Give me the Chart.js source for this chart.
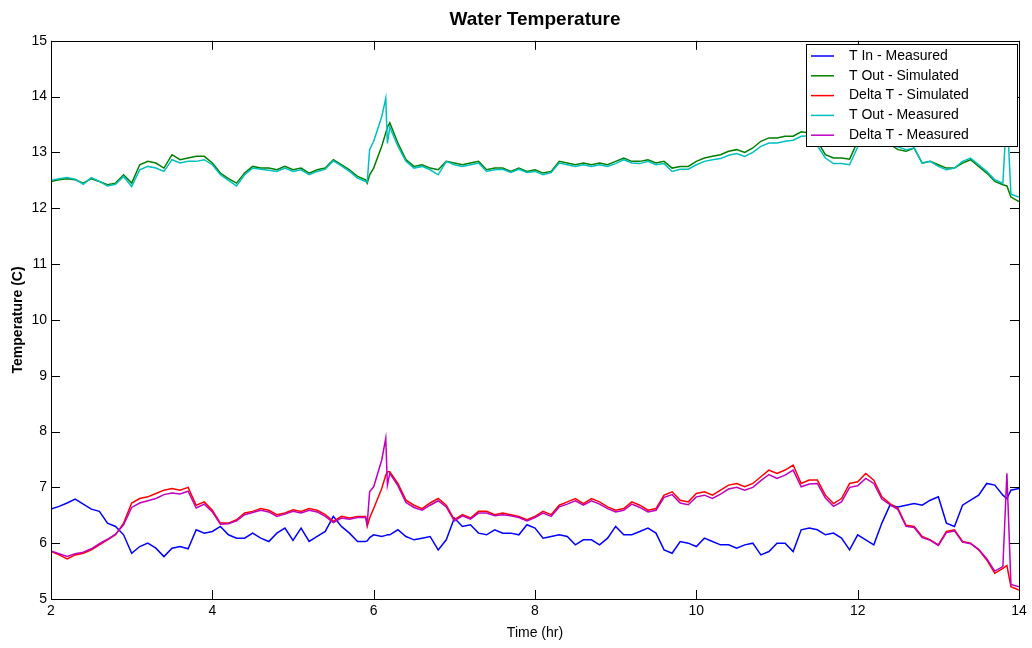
<!DOCTYPE html>
<html>
<head>
<meta charset="utf-8">
<script src="https://cdn.jsdelivr.net/npm/chart.js@4.4.1/dist/chart.umd.min.js"></script>
<style>
  html, body { margin: 0; padding: 0; background: #fff; }
  #wrap { width: 1032px; height: 648px; }
</style>
</head>
<body>
<div id="wrap"><canvas id="chart"></canvas></div>
<script>
// time axis (hr), a few extra samples around the spikes
const hours = [
    2.0,2.1,2.2,2.3,2.4,2.5,2.6,2.7,2.8,2.9,
    3.0,3.1,3.2,3.3,3.4,3.5,3.6,3.7,3.8,3.9,
    4.0,4.1,4.2,4.3,4.4,4.5,4.6,4.7,4.8,4.9,
    5.0,5.1,5.2,5.3,5.4,5.5,5.6,5.7,5.8,5.9,
    5.92,5.95,
    6.0,6.1,
    6.15,6.17,
    6.2,6.3,6.4,6.5,6.6,6.7,6.8,6.9,7.0,7.1,
    7.2,7.3,7.4,7.5,7.6,7.7,7.8,7.9,8.0,8.1,
    8.2,8.3,8.4,8.5,8.6,8.7,8.8,8.9,9.0,9.1,
    9.2,9.3,9.4,9.5,9.6,9.7,9.8,9.9,10.0,10.1,
    10.2,10.3,10.4,10.5,10.6,10.7,10.8,10.9,11.0,11.1,
    11.2,11.3,11.4,11.5,11.6,11.7,11.8,11.9,12.0,12.1,
    12.2,12.3,12.4,12.5,12.6,12.7,12.8,12.9,13.0,13.1,
    13.2,13.3,13.4,13.5,13.6,13.7,13.8,
    13.85,
    13.9,14.0
];

const tInMeasured = [
    6.61,6.66,6.72,6.79,6.70,6.61,6.57,6.36,6.30,6.15,
    5.82,5.94,6.00,5.91,5.76,5.91,5.94,5.90,6.24,6.18,
    6.21,6.30,6.15,6.09,6.09,6.18,6.09,6.03,6.18,6.27,
    6.05,6.27,6.03,6.12,6.21,6.48,6.30,6.18,6.03,6.03,
    6.04,6.10,
    6.15,6.12,
    6.14,6.15,
    6.15,6.24,6.12,6.06,6.09,6.12,5.88,6.06,6.45,6.30,
    6.33,6.18,6.15,6.24,6.18,6.18,6.15,6.33,6.27,6.09,
    6.12,6.15,6.12,5.97,6.06,6.06,5.97,6.09,6.30,6.15,
    6.15,6.21,6.27,6.18,5.88,5.82,6.03,6.00,5.94,6.09,
    6.03,5.97,5.97,5.91,5.97,6.00,5.79,5.85,6.00,6.00,
    5.85,6.24,6.27,6.24,6.15,6.18,6.09,5.88,6.15,6.06,
    5.97,6.36,6.68,6.65,6.68,6.71,6.68,6.77,6.83,6.36,
    6.30,6.68,6.77,6.86,7.07,7.04,6.86,
    6.80,
    6.95,6.98
];

const tOutSimulated = [
    12.48,12.51,12.53,12.51,12.45,12.53,12.48,12.42,12.45,12.60,
    12.45,12.78,12.84,12.81,12.72,12.96,12.87,12.90,12.93,12.93,
    12.81,12.63,12.53,12.45,12.63,12.75,12.72,12.72,12.69,12.75,
    12.69,12.72,12.63,12.69,12.72,12.87,12.78,12.69,12.57,12.51,
    12.45,12.60,
    12.72,13.11,
    13.35,13.45,
    13.53,13.17,12.87,12.75,12.78,12.72,12.69,12.84,12.81,12.78,
    12.81,12.84,12.69,12.72,12.72,12.66,12.72,12.66,12.69,12.63,
    12.66,12.84,12.81,12.78,12.81,12.78,12.81,12.78,12.84,12.90,
    12.84,12.84,12.87,12.81,12.84,12.72,12.75,12.75,12.84,12.90,
    12.93,12.96,13.02,13.05,13.00,13.08,13.20,13.26,13.26,13.29,
    13.29,13.37,13.35,13.20,12.96,12.90,12.90,12.88,13.20,13.28,
    13.22,13.20,13.15,13.05,13.02,13.08,12.81,12.84,12.78,12.72,
    12.72,12.81,12.87,12.75,12.63,12.48,12.42,
    12.40,
    12.20,12.12
];

const deltaSimulated = [
    5.85,5.79,5.72,5.79,5.82,5.88,5.97,6.06,6.15,6.36,
    6.72,6.80,6.83,6.89,6.95,6.98,6.95,7.00,6.68,6.74,
    6.59,6.36,6.36,6.42,6.54,6.57,6.62,6.59,6.51,6.54,
    6.60,6.57,6.62,6.59,6.51,6.39,6.48,6.45,6.48,6.48,
    6.30,6.45,
    6.62,6.98,
    7.22,7.28,
    7.28,7.07,6.77,6.68,6.62,6.72,6.80,6.68,6.42,6.51,
    6.45,6.57,6.57,6.51,6.54,6.51,6.48,6.42,6.48,6.57,
    6.51,6.68,6.74,6.80,6.71,6.80,6.74,6.65,6.59,6.62,
    6.74,6.68,6.59,6.62,6.86,6.92,6.77,6.74,6.89,6.92,
    6.86,6.95,7.04,7.07,7.01,7.07,7.19,7.31,7.25,7.31,
    7.40,7.07,7.13,7.13,6.86,6.71,6.80,7.07,7.10,7.25,
    7.13,6.83,6.71,6.62,6.32,6.30,6.12,6.06,5.97,6.21,
    6.24,6.03,6.00,5.88,5.70,5.46,5.55,
    5.60,
    5.22,5.16
];

const tOutMeasured = [
    12.50,12.53,12.55,12.52,12.43,12.55,12.48,12.40,12.43,12.57,
    12.39,12.69,12.75,12.72,12.66,12.87,12.81,12.84,12.84,12.87,
    12.78,12.60,12.50,12.40,12.60,12.72,12.70,12.68,12.66,12.72,
    12.66,12.69,12.60,12.66,12.70,12.85,12.76,12.66,12.54,12.48,
    12.47,13.05,
    13.20,13.64,
    13.97,13.16,
    13.45,13.11,12.84,12.72,12.75,12.69,12.60,12.84,12.78,12.75,
    12.78,12.81,12.66,12.69,12.70,12.64,12.70,12.64,12.66,12.60,
    12.64,12.81,12.78,12.75,12.78,12.75,12.78,12.75,12.80,12.87,
    12.81,12.80,12.84,12.78,12.80,12.66,12.70,12.70,12.78,12.84,
    12.87,12.89,12.95,12.98,12.93,13.00,13.11,13.17,13.17,13.20,
    13.22,13.29,13.30,13.12,12.90,12.80,12.80,12.78,13.10,13.22,
    13.18,13.18,13.12,13.10,13.05,13.08,12.81,12.84,12.75,12.69,
    12.72,12.84,12.90,12.78,12.66,12.51,12.45,
    13.75,
    12.25,12.20
];

const deltaMeasured = [
    5.86,5.81,5.76,5.81,5.84,5.90,5.99,6.07,6.16,6.33,
    6.64,6.72,6.76,6.80,6.87,6.90,6.88,6.93,6.63,6.70,
    6.56,6.34,6.35,6.40,6.51,6.55,6.59,6.56,6.48,6.52,
    6.57,6.54,6.59,6.56,6.48,6.37,6.45,6.43,6.46,6.46,
    6.35,6.92,
    7.01,7.49,
    7.88,7.04,
    7.25,7.03,6.73,6.64,6.59,6.68,6.76,6.65,6.40,6.49,
    6.43,6.54,6.54,6.49,6.51,6.49,6.46,6.40,6.46,6.54,
    6.48,6.65,6.70,6.76,6.68,6.76,6.70,6.62,6.56,6.59,
    6.70,6.64,6.56,6.59,6.82,6.87,6.72,6.69,6.83,6.86,
    6.80,6.88,6.97,7.00,6.95,7.00,7.12,7.23,7.16,7.22,
    7.31,7.01,7.06,7.07,6.81,6.66,6.74,7.00,7.03,7.16,
    7.07,6.79,6.69,6.60,6.30,6.28,6.10,6.05,5.96,6.19,
    6.22,6.02,5.99,5.89,5.72,5.50,5.58,
    7.25,
    5.26,5.22
];

const seriesNames = ['T In - Measured', 'T Out - Simulated', 'Delta T - Simulated', 'T Out - Measured', 'Delta T - Measured'];
const seriesValues = [tInMeasured, tOutSimulated, deltaSimulated, tOutMeasured, deltaMeasured];
const seriesColors = ['#0000ff', '#007f00', '#ff0000', '#00bfbf', '#bf00bf'];

const FONT = '"Liberation Sans", Arial, Helvetica, sans-serif';

function pairUp(vals) {
    return hours.map((h, i) => ({x: h, y: vals[i]}));
}

// MATLAB style box, inward ticks and boxed legend
const matlabAxes = {
    id: 'matlabAxes',
    afterDatasetsDraw(chart) {
        const ctx = chart.ctx;
        const a = chart.chartArea;
        const xs = chart.scales.x, ys = chart.scales.y;
        const len = 9;
        ctx.save();
        ctx.strokeStyle = '#000';
        ctx.lineWidth = 1;
        ctx.beginPath();
        for (const t of xs.ticks) {
            const px = Math.round(xs.getPixelForValue(t.value)) + 0.5;
            ctx.moveTo(px, a.bottom); ctx.lineTo(px, a.bottom - len);
            ctx.moveTo(px, a.top); ctx.lineTo(px, a.top + len);
        }
        for (const t of ys.ticks) {
            const py = Math.round(ys.getPixelForValue(t.value)) + 0.5;
            ctx.moveTo(a.left, py); ctx.lineTo(a.left + len, py);
            ctx.moveTo(a.right, py); ctx.lineTo(a.right - len, py);
        }
        ctx.stroke();
        ctx.strokeRect(Math.round(a.left) + 0.5, Math.round(a.top) + 0.5,
                       Math.round(a.right - a.left), Math.round(a.bottom - a.top));

        // legend box (top right, inside the axes)
        const bx = 806.5, by = 44.5, bw = 211, bh = 102;
        ctx.fillStyle = '#fff';
        ctx.fillRect(bx, by, bw, bh);
        ctx.strokeRect(bx, by, bw, bh);
        ctx.font = '14px ' + FONT;
        ctx.textBaseline = 'middle';
        ctx.textAlign = 'left';
        for (let i = 0; i < seriesNames.length; ++i) {
            const ry = 56 + i * 19.8;
            ctx.strokeStyle = seriesColors[i];
            ctx.lineWidth = 1.5;
            ctx.beginPath();
            ctx.moveTo(811, ry); ctx.lineTo(834, ry);
            ctx.stroke();
            ctx.fillStyle = '#000';
            ctx.fillText(seriesNames[i], 849, ry);
        }
        ctx.restore();
    }
};

new Chart(document.getElementById('chart').getContext('2d'), {
    type: 'line',
    data: {
        datasets: seriesNames.map((name, i) => ({
            label: name,
            data: pairUp(seriesValues[i]),
            borderColor: seriesColors[i],
            backgroundColor: seriesColors[i],
            borderWidth: 1.5,
            pointRadius: 0,
            tension: 0,
            order: seriesNames.length - i
        }))
    },
    options: {
        responsive: true,
        maintainAspectRatio: false,
        animation: false,
        layout: {padding: {left: 0, right: 13, top: 0, bottom: 0}},
        plugins: {
            legend: {display: false},
            tooltip: {enabled: false},
            title: {
                display: true,
                fullSize: false,
                text: 'Water Temperature',
                color: '#000',
                font: {family: FONT, size: 19, weight: 'bold'},
                padding: {top: 8, bottom: 10}
            }
        },
        scales: {
            x: {
                type: 'linear',
                min: 2, max: 14,
                grid: {display: false, drawTicks: false},
                border: {display: false},
                ticks: {stepSize: 2, color: '#000', padding: 4, maxRotation: 0,
                        font: {family: FONT, size: 14}},
                title: {display: true, text: 'Time (hr)', color: '#000',
                        font: {family: FONT, size: 14}, padding: {top: 0, bottom: 6}},
                afterFit(scale) { scale.height = 49; }
            },
            y: {
                type: 'linear',
                min: 5, max: 15,
                grid: {display: false, drawTicks: false},
                border: {display: false},
                ticks: {stepSize: 1, color: '#000', padding: 4,
                        font: {family: FONT, size: 14}},
                title: {display: true, text: 'Temperature (C)', color: '#000',
                        font: {family: FONT, size: 14, weight: 'bold'}, padding: {top: 10, bottom: 0}},
                afterFit(scale) { scale.width = 51; }
            }
        }
    },
    plugins: [matlabAxes]
});
</script>
</body>
</html>
